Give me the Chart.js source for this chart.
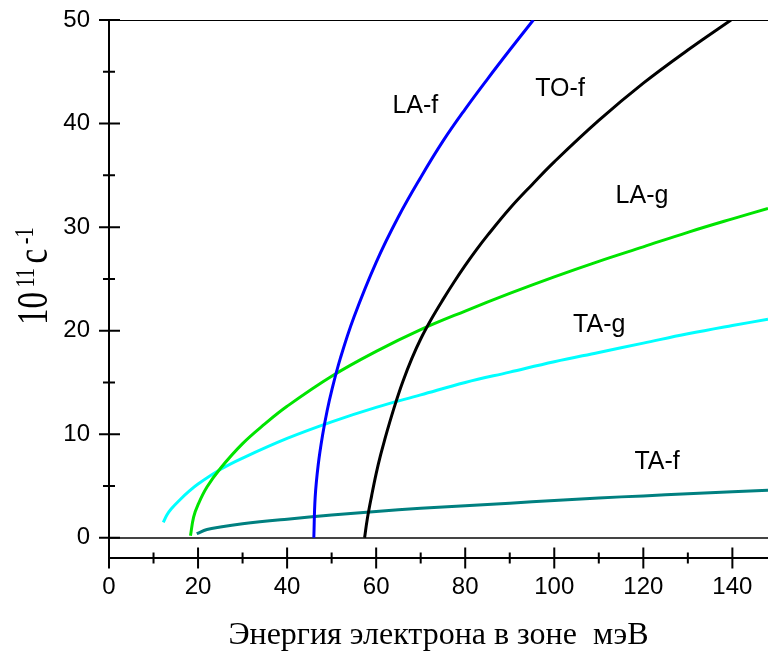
<!DOCTYPE html>
<html lang="ru">
<head>
    <meta charset="UTF-8">
    <title>Темпы рассеяния</title>
    <style>
        html, body { margin: 0; padding: 0; background: #fff; }
        .chart-container { width: 768px; height: 655px; }
    </style>
    <script src="https://cdn.jsdelivr.net/npm/chart.js"></script>
</head>
<body>
    <div class="chart-container">
        <canvas id="rateChart"></canvas>
    </div>

    <script>
        // values (energy in meV, rate in 10^11 s^-1)
        const laF_x = [46.0, 46.3, 47, 48, 49, 50, 52, 55, 60, 65, 70, 75, 80, 85, 90, 95.3];
        const laF_y = [0, 3.9, 7.1, 10.0, 12.3, 14.2, 17.4, 21.3, 26.6, 31.0, 34.8, 38.3, 41.4, 44.3, 47.1, 50];

        const toF_x = [57.4, 58, 59, 60, 61, 62, 63, 64.5, 66, 68, 70, 72.5, 75, 77.5, 80, 82.5, 85, 90, 95, 100, 110, 120, 130, 139.7];
        const toF_y = [0, 1.8, 4.1, 6.2, 8.0, 9.6, 11.1, 13.2, 15.1, 17.3, 19.2, 21.2, 23.0, 24.7, 26.3, 27.8, 29.2, 31.8, 34.1, 36.3, 40.3, 43.9, 47.1, 50];

        const laG_x = [18.3, 19, 20, 22, 25, 30, 35, 40, 50, 60, 70, 80, 90, 100, 110, 120, 130, 140, 148];
        const laG_y = [0.2, 2.0, 3.2, 4.9, 6.7, 9.1, 11.0, 12.7, 15.6, 18.0, 20.1, 21.9, 23.6, 25.2, 26.7, 28.1, 29.5, 30.8, 31.8];

        const taG_x = [12.2, 13, 14, 16, 18, 20, 25, 30, 40, 50, 60, 70, 80, 90, 100, 110, 120, 130, 140, 148];
        const taG_y = [1.5, 2.2, 2.8, 3.7, 4.5, 5.2, 6.6, 7.7, 9.6, 11.2, 12.6, 13.8, 15.0, 16.0, 17.0, 17.9, 18.8, 19.7, 20.5, 21.1];

        const taF_x = [19.7, 22, 25, 30, 40, 50, 60, 70, 80, 90, 100, 110, 120, 130, 140, 148];
        const taF_y = [0.4, 0.8, 1.05, 1.35, 1.8, 2.2, 2.55, 2.85, 3.1, 3.35, 3.6, 3.85, 4.05, 4.25, 4.45, 4.6];

        // tick values
        const xTicks = [0, 20, 40, 60, 80, 100, 120, 140];
        const yTicks = [0, 10, 20, 30, 40, 50];

        // curve labels, placed in data units
        const labelText = ['LA-f', 'TO-f', 'LA-g', 'TA-g', 'TA-f'];
        const labelX = [68.8, 101.3, 119.7, 110.1, 123.1];
        const labelY = [41.7, 43.3, 33.0, 20.5, 7.3];

        const xMin = 0, xMax = 148, yMin = -1.9, yMax = 50;

        const sans = 'Arial, "Liberation Sans", sans-serif';
        const serif = '"Times New Roman", "Liberation Serif", serif';

        const toPoints = (xs, ys) => xs.map((x, i) => ({ x: x, y: ys[i] }));

        function curve(label, xs, ys, color) {
            return {
                label: label,
                data: toPoints(xs, ys),
                borderColor: color,
                borderWidth: 3,
                pointRadius: 0,
                showLine: true,
                fill: false,
                tension: 0.4
            };
        }

        // ticks crossing the axes, minor ticks, curve labels, y title
        const decorations = {
            id: 'decorations',
            afterDraw(chart) {
                const ctx = chart.ctx;
                const xs = chart.scales.x, ys = chart.scales.y;
                const left = chart.chartArea.left, bottom = chart.chartArea.bottom;
                ctx.save();
                ctx.strokeStyle = '#000';
                ctx.lineWidth = 2;
                ctx.beginPath();
                yTicks.forEach((v, i) => {
                    const p = ys.getPixelForValue(v);
                    ctx.moveTo(left - 10, p); ctx.lineTo(left + 11, p);
                    if (i < yTicks.length - 1) {
                        const m = ys.getPixelForValue((v + yTicks[i + 1]) / 2);
                        ctx.moveTo(left - 6, m); ctx.lineTo(left + 6, m);
                    }
                });
                xTicks.forEach((v, i) => {
                    const p = xs.getPixelForValue(v);
                    ctx.moveTo(p, bottom - 10); ctx.lineTo(p, bottom + 11);
                    if (i < xTicks.length - 1) {
                        const m = xs.getPixelForValue((v + xTicks[i + 1]) / 2);
                        ctx.moveTo(m, bottom - 5); ctx.lineTo(m, bottom + 6);
                    }
                });
                ctx.stroke();

                ctx.fillStyle = '#000';
                ctx.font = '25px ' + sans;
                ctx.textAlign = 'center';
                ctx.textBaseline = 'middle';
                labelText.forEach((t, i) => {
                    ctx.fillText(t, xs.getPixelForValue(labelX[i]), ys.getPixelForValue(labelY[i]));
                });

                // y axis title: 10^11 с^-1, rotated
                ctx.translate(47, 325);
                ctx.rotate(-Math.PI / 2);
                ctx.scale(0.75, 1);
                ctx.textAlign = 'left';
                ctx.textBaseline = 'alphabetic';
                let pos = 0;
                const parts = [['10', 44, 0], ['11', 27, 13], ['с', 44, 0], ['-1', 27, 14]];
                parts.forEach(([t, size, rise]) => {
                    ctx.font = size + 'px ' + serif;
                    ctx.fillText(t, pos, -rise);
                    pos += ctx.measureText(t).width + 6;
                });
                ctx.restore();
            }
        };

        const setTicks = values => scale => {
            scale.ticks = values.map(v => ({ value: v }));
        };

        const rateChart = new Chart(document.getElementById('rateChart').getContext('2d'), {
            type: 'scatter',
            data: {
                datasets: [
                    curve('LA-f', laF_x, laF_y, '#0000FF'),
                    curve('TO-f', toF_x, toF_y, '#000000'),
                    curve('LA-g', laG_x, laG_y, '#00E400'),
                    curve('TA-g', taG_x, taG_y, '#00FFFF'),
                    curve('TA-f', taF_x, taF_y, '#008080')
                ]
            },
            options: {
                responsive: true,
                maintainAspectRatio: false,
                animation: false,
                layout: { padding: { top: 20, right: 0, left: 0, bottom: 0 } },
                plugins: {
                    legend: { display: false },
                    tooltip: { enabled: false }
                },
                scales: {
                    x: {
                        type: 'linear',
                        min: xMin,
                        max: xMax,
                        afterBuildTicks: setTicks(xTicks),
                        afterFit: s => { s.height = 97.5; s.paddingLeft = 0; s.paddingRight = 0; },
                        ticks: { color: '#000', font: { size: 24, family: sans }, padding: 15, maxRotation: 0 },
                        grid: { display: false, drawTicks: false },
                        border: { display: true, color: '#000', width: 2 },
                        title: {
                            display: true,
                            text: 'Энергия электрона в зоне  мэВ',
                            color: '#000',
                            font: { size: 32, family: serif },
                            padding: { top: 0, bottom: 0 }
                        }
                    },
                    y: {
                        type: 'linear',
                        min: yMin,
                        max: yMax,
                        afterBuildTicks: setTicks(yTicks),
                        afterFit: s => { s.width = 109; s.paddingTop = 0; s.paddingBottom = 0; },
                        ticks: { color: '#000', font: { size: 24, family: sans }, padding: 19 },
                        grid: {
                            drawTicks: false,
                            color: c => c.tick.value === 0 ? '#444' : (c.tick.value === yMax ? '#000' : 'rgba(0,0,0,0)'),
                            lineWidth: c => c.tick.value === 0 ? 2 : 1
                        },
                        border: { display: true, color: '#000', width: 2 }
                    }
                }
            },
            plugins: [decorations]
        });
    </script>
</body>
</html>
